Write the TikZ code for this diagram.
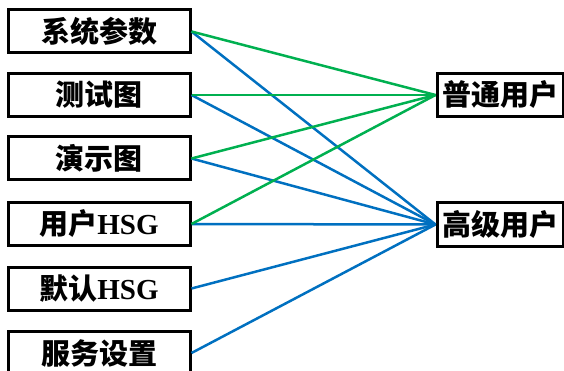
\documentclass[tikz,border=0pt]{standalone}
\usepackage{fontspec}
\usepackage{tikz}
\setmainfont{Liberation Serif}
\newfontfamily\cjk{Noto Sans CJK SC}
\definecolor{linkgreen}{RGB}{0,176,80}
\definecolor{linkblue}{RGB}{0,112,192}
\tikzset{
	item/.style={draw,line width=3pt,minimum height=43pt,inner sep=0pt,font=\fontsize{29}{31}\selectfont\bfseries},
	leftitem/.style={item,minimum width=182pt},
	rightitem/.style={item,minimum width=126pt},
	normallink/.style={linkgreen,line width=2.5pt},
	expertlink/.style={linkblue,line width=2.5pt}
}
\begin{document}
\begin{tikzpicture}[x=1pt,y=-1pt]
	\useasboundingbox (0,0) rectangle (564,371);
	% left column
	\node[leftitem] (param) at (99,31.5) {\cjk 系统参数};
	\node[leftitem] (test) at (99,95) {\cjk 测试图};
	\node[leftitem] (demo) at (99,158.5) {\cjk 演示图};
	\node[leftitem] (userhsg) at (99,224) {{\cjk 用户}HSG};
	\node[leftitem] (defhsg) at (99,288.5) {{\cjk 默认}HSG};
	\node[leftitem] (service) at (99,353) {\cjk 服务设置};
	% right column
	\node[rightitem] (basic) at (500,95) {\cjk 普通用户};
	\node[rightitem] (advanced) at (500,224.5) {\cjk 高级用户};
	% links
	\draw[expertlink] (param.east) -- (advanced.west);
	\draw[expertlink] (test.east) -- (advanced.west);
	\draw[expertlink] (demo.east) -- (advanced.west);
	\draw[expertlink] (userhsg.east) -- (advanced.west);
	\draw[expertlink] (defhsg.east) -- (advanced.west);
	\draw[expertlink] (service.east) -- (advanced.west);
	\draw[normallink] (param.east) -- (basic.west);
	\draw[normallink] (test.east) -- (basic.west);
	\draw[normallink] (demo.east) -- (basic.west);
	\draw[normallink] (userhsg.east) -- (basic.west);
\end{tikzpicture}
\end{document}
